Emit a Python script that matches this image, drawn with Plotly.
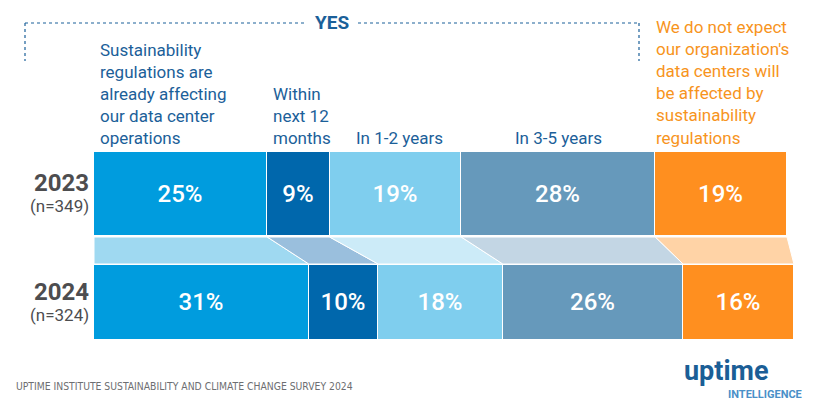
import plotly.graph_objects as go

years = ["2023", "2024"]
samples = ["(n=349)", "(n=324)"]
categories = [
    "Sustainability<br>regulations are<br>already affecting<br>our data center<br>operations",
    "Within<br>next 12<br>months",
    "In 1-2 years",
    "In 3-5 years",
    "We do not expect<br>our organization's<br>data centers will<br>be affected by<br>sustainability<br>regulations",
]
values_2023 = [25, 9, 19, 28, 19]
values_2024 = [31, 10, 18, 26, 16]

bar_colors = ["#009CDE", "#0067AC", "#7FCEEE", "#6699BB", "#FF8F1F"]
link_colors = ["#9FD9F1", "#9ABFDD", "#CCEBF8", "#C3D6E4", "#FFD3A6"]
label_colors = ["#1B6099"] * 4 + ["#F7941D"]

W, H = 820, 401
X0, SCALE = 94, 6.93  # pixel of 0%, pixels per percent
Y_BARS = [194, 302.5]
BAR_W = [84, 75]
LINK_TOP, LINK_BOT = 237, 264
FONT = "Roboto, Arial, sans-serif"

fig = go.Figure()

# connectors between the two years
c23 = [sum(values_2023[:i]) for i in range(len(values_2023) + 1)]
c24 = [sum(values_2024[:i]) for i in range(len(values_2024) + 1)]
for i in range(len(categories)):
    fig.add_trace(go.Scatter(
        x=[c23[i], c23[i + 1], c24[i + 1], c24[i], c23[i]],
        y=[LINK_TOP, LINK_TOP, LINK_BOT, LINK_BOT, LINK_TOP],
        fill="toself", fillcolor=link_colors[i], mode="lines",
        line=dict(color="white", width=1), hoverinfo="skip", showlegend=False,
    ))

for i in range(len(categories)):
    vals = [values_2023[i], values_2024[i]]
    fig.add_trace(go.Bar(
        x=vals, y=Y_BARS, width=BAR_W, orientation="h",
        marker=dict(color=bar_colors[i], line=dict(color="white", width=1)),
        text=[f"{v}%" for v in vals], textposition="inside",
        insidetextanchor="middle", textangle=0,
        textfont=dict(color="white", size=24, family=FONT, weight=500),
        showlegend=False, hoverinfo="skip",
    ))

# category labels above the bars
label_x = [98, 271, 354, 513, 654]
for i, txt in enumerate(categories):
    fig.add_annotation(
        x=label_x[i] / W, xref="paper", y=149.5, yref="y",
        text=txt, showarrow=False, xanchor="left", yanchor="bottom",
        align="left", font=dict(size=17, color=label_colors[i], family=FONT),
    )

# year labels
for i, (yr, n) in enumerate(zip(years, samples)):
    fig.add_annotation(x=91 / W, xref="paper", y=Y_BARS[i] - 11, yref="y",
                       text=f"<b>{yr}</b>", showarrow=False, xanchor="right",
                       font=dict(size=24, color="#4D4D4F", family=FONT))
    fig.add_annotation(x=91 / W, xref="paper", y=Y_BARS[i] + 12, yref="y",
                       text=n, showarrow=False, xanchor="right",
                       font=dict(size=17, color="#4D4D4F", family=FONT))

# YES bracket
dot = dict(color="#1B6099", width=1.2, dash="dot")
for x0, y0, x1, y1 in [(25, 23, 305, 23), (358, 23, 639, 23),
                       (25, 23, 25, 61), (639, 23, 639, 61)]:
    fig.add_shape(type="line", xref="paper", yref="y",
                  x0=x0 / W, y0=y0, x1=x1 / W, y1=y1, line=dot)
fig.add_annotation(x=332 / W, xref="paper", y=22, yref="y", text="<b>YES</b>",
                   showarrow=False, font=dict(size=19, color="#1B6099", family=FONT))

# footer
fig.add_annotation(x=14 / W, xref="paper", y=386, yref="y",
                   text="UPTIME INSTITUTE SUSTAINABILITY AND CLIMATE CHANGE SURVEY 2024",
                   showarrow=False, xanchor="left",
                   font=dict(size=10.3, color="#6D6E71",
                             family="Liberation Sans Narrow, DejaVu Sans Condensed, Roboto, sans-serif"))
fig.add_annotation(x=726 / W, xref="paper", y=371, yref="y", text="<b>uptime</b>",
                   showarrow=False, xanchor="center",
                   font=dict(size=27, color="#1B5E96", family=FONT))
fig.add_annotation(x=804 / W, xref="paper", y=394, yref="y", text="<b>INTELLIGENCE</b>",
                   showarrow=False, xanchor="right",
                   font=dict(size=11, color="#4A90C8", family=FONT))

fig.update_layout(
    width=W, height=H, margin=dict(l=0, r=0, t=0, b=0),
    barmode="stack", bargap=0, plot_bgcolor="white", paper_bgcolor="white",
    xaxis=dict(range=[-X0 / SCALE, (W - X0) / SCALE], visible=False, fixedrange=True),
    yaxis=dict(range=[H, 0], visible=False, fixedrange=True),
    uniformtext=dict(minsize=24, mode="show"),
)

fig.write_html("out.html", config={"displayModeBar": False},
               post_script="document.body.style.margin='0';")
